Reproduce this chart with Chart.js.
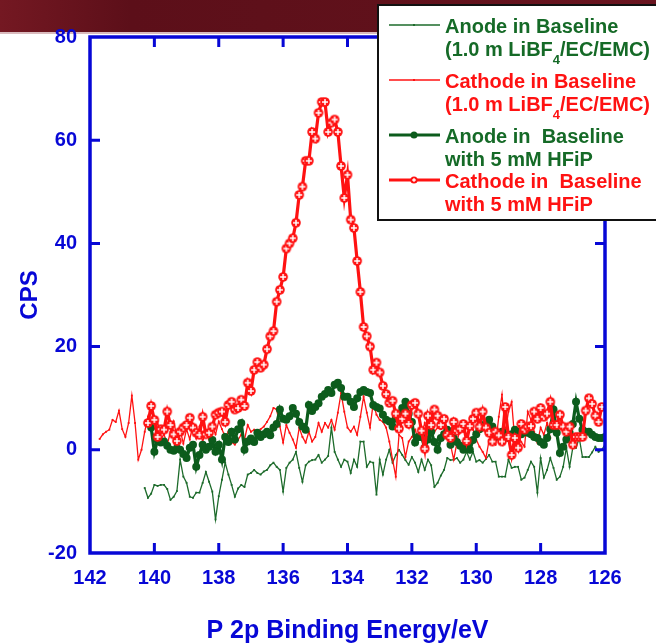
<!DOCTYPE html>
<html>
<head>
<meta charset="utf-8">
<title>P 2p XPS</title>
<script src="https://cdn.jsdelivr.net/npm/chart.js@4.4.0/dist/chart.umd.min.js"></script>
<style>
html, body { margin: 0; padding: 0; background: #fff; }
#wrap { width: 656px; height: 644px; }
</style>
</head>
<body>
<div id="wrap"><canvas id="xps" width="656" height="644"></canvas></div>
<script>
// colours
var BLUE = '#0707d6';
var GREEN_THIN = '#1d6b2b';
var GREEN = '#0c5c1c';
var RED = '#ff1212';
var FONT = '"Liberation Sans", Arial, sans-serif';

// energy grid (eV): first point of each scan, spacing 0.1 eV
var stepEV = 0.1;
var anodeBaseStart = 140.3;
var cathodeBaseStart = 141.7;
var anodeHfipStart = 140.1;
var cathodeHfipStart = 140.2;

// CPS
var anodeBase = [
  -7.4,-9.3,-8.5,-6.8,-7.0,-6.8,-6.8,-7.6,-9.7,-9.1,
  -8.0,-1.9,-5.2,-6.4,-9.1,-9.3,-8.3,-8.3,-6.4,-4.3,
  -6.2,-8.1,-13.5,-9.0,-5.8,-2.5,-4.8,-6.8,-9.1,-7.5,
  -6.8,-7.2,-4.8,-4.5,-3.9,-4.5,-4.8,-4.2,-3.9,-3.0,
  -2.5,-3.3,-3.9,-8.1,-3.5,-2.5,-1.9,-0.4,-3.5,-6.2,
  -3.0,-2.3,-2.0,-1.9,-1.0,-2.5,-1.9,-1.2,4.3,-0.4,
  -1.9,-3.3,-1.9,-2.3,-4.5,-1.9,-3.3,1.6,1.6,-3.3,
  -2.3,-2.5,-8.7,-1.9,-4.8,-1.9,0.0,-2.5,-1.0,0.0,
  -1.0,-2.0,-2.9,-1.4,-2.5,-4.3,-1.9,-3.9,-1.9,-3.0,
  -7.2,-6.4,-5.0,-3.9,-1.6,-2.0,-1.9,-1.6,-2.5,-1.9,
  -0.4,-1.9,-0.4,-2.3,-2.0,-2.5,-1.8,-1.0,-2.3,-2.3,
  -5.2,-5.2,-5.2,-1.9,-3.5,-3.3,-3.3,-5.8,-5.4,-3.9,
  -2.3,-3.3,-8.3,-1.6,-5.4,-3.9,-1.6,-3.5,-5.8,-5.2,
  -3.3,0.4,-3.3,0.4,0.4,2.3,-1.4,-1.4,-1.4,-0.5,
  0.6,-0.4,0.0,1.0
];
var cathodeBase = [
  2.1,3.0,3.5,3.9,5.8,5.4,7.6,4.0,2.5,5.2,
  10.5,5.2,-1.9,0.0,3.5,6.4,4.0,2.5,5.5,2.0,
  3.0,1.0,3.5,5.5,2.5,3.9,1.2,4.0,2.0,5.0,
  2.2,4.5,1.5,3.8,2.0,4.5,3.0,5.5,4.0,2.5,
  3.5,1.5,1.0,1.9,3.0,2.0,4.8,3.5,3.9,3.0,
  4.0,4.5,5.4,6.5,8.1,7.8,4.5,1.4,4.8,3.3,
  2.0,0.4,4.3,2.5,1.4,3.5,1.6,2.5,5.2,3.5,
  5.2,4.3,5.8,3.9,7.2,11.0,7.4,4.3,3.5,4.5,
  2.9,6.4,10.3,7.2,4.3,9.1,6.8,5.8,5.4,4.3,
  1.6,-1.9,-5.2,2.9,2.3,-1.4,1.6,2.5,3.9,1.9,
  3.0,5.2,2.9,4.8,3.5,4.3,4.0,4.5,2.3,1.0,
  -1.9,1.4,4.3,3.5,4.5,5.2,3.9,2.0,0.6,-0.4,
  -1.6,1.9,1.5,1.0,6.4,10.7,3.3,7.4,9.3,1.6,
  2.9,1.5,0.6,7.4,5.8,3.5,1.4,4.3,2.9,5.2,
  2.3
];
var anodeHfip = [
  4.3,-0.4,1.9,1.4,1.6,0.8,0.0,-0.2,0.3,0.0,
  -0.8,-1.6,0.4,1.0,-3.3,-1.0,1.0,0.0,0.6,1.9,
  -0.4,1.0,-1.9,2.5,1.5,3.5,2.0,4.0,5.2,0.0,
  1.6,2.2,1.5,3.3,2.5,3.0,3.5,2.8,4.3,5.0,
  7.8,6.0,5.8,6.5,8.1,7.0,5.4,4.5,3.9,8.7,
  7.5,8.3,9.0,10.3,10.8,11.6,11.0,12.6,13.0,12.0,
  10.3,10.3,9.3,8.3,10.0,11.2,11.6,11.2,11.0,8.7,
  8.3,8.0,6.8,5.8,5.5,4.5,6.2,7.0,8.1,9.3,
  7.0,5.4,1.4,2.5,2.5,0.4,2.0,3.5,1.5,0.0,
  2.3,3.0,3.9,1.0,2.3,1.5,0.8,0.0,1.4,0.0,
  1.9,3.0,4.0,4.5,5.2,5.8,4.5,2.5,3.0,3.5,
  3.0,2.3,3.0,3.9,3.5,3.0,3.5,3.3,3.0,2.5,
  2.3,1.5,1.0,2.3,4.0,7.8,3.3,-0.6,0.6,2.0,
  3.3,5.0,9.3,6.0,3.9,3.5,3.5,2.9,2.5,2.3,
  2.3,2.5
];
var cathodeHfip = [
  5.2,8.5,5.8,2.5,4.0,3.9,7.4,4.8,3.0,1.7,
  3.5,4.3,4.8,6.2,4.3,3.3,2.9,6.4,3.0,3.3,
  4.5,6.8,7.2,7.4,5.4,8.7,9.3,7.8,8.1,9.7,
  8.5,13.0,11.4,15.5,17.0,15.9,16.5,19.5,22.0,23.0,
  28.7,31.0,33.5,39.0,40.0,41.0,44.0,49.4,51.0,56.0,
  56.0,61.6,60.3,65.3,67.4,67.4,61.6,63.4,64.0,61.6,
  55.0,48.8,53.3,44.6,43.0,36.6,30.6,23.8,22.0,20.0,
  15.5,16.9,15.0,12.4,10.8,9.1,9.5,7.0,4.1,6.0,
  7.0,5.0,8.7,9.1,7.0,3.7,0.2,6.6,4.8,7.8,
  6.6,4.8,6.0,2.9,2.3,5.4,3.7,4.1,5.0,1.7,
  4.6,6.0,7.2,4.5,7.4,4.3,3.3,1.6,3.5,2.8,
  1.6,8.3,2.5,-1.0,2.3,0.4,5.0,3.9,4.5,4.6,
  7.4,6.0,8.1,6.4,7.0,9.3,4.8,4.8,6.8,4.5,
  3.5,4.5,1.0,2.5,2.5,2.5,7.6,10.0,8.9,6.6,
  5.4,8.3
];

var xTicks = [142, 140, 138, 136, 134, 132, 130, 128, 126];
var yTicks = [-20, 0, 20, 40, 60, 80];

// legend text, "_4" marks the subscript
var seriesNames = [
  ['Anode in Baseline', '(1.0 m LiBF_4/EC/EMC)'],
  ['Cathode in Baseline', '(1.0 m LiBF_4/EC/EMC)'],
  ['Anode in  Baseline', 'with 5 mM HFiP'],
  ['Cathode in  Baseline', 'with 5 mM HFiP']
];

function toPoints(start, vals) {
  return vals.map(function (v, i) {
    return { x: +(start - i * stepEV).toFixed(2), y: v };
  });
}

// red dot with white cross
function crossDot(r) {
  var c = document.createElement('canvas');
  var s = Math.ceil(r * 2 + 2);
  c.width = s; c.height = s;
  var g = c.getContext('2d');
  var m = s / 2;
  g.fillStyle = RED;
  g.beginPath(); g.arc(m, m, r, 0, Math.PI * 2); g.fill();
  g.strokeStyle = '#fff'; g.lineWidth = 1.5;
  g.beginPath();
  g.moveTo(m, m - r + 1.8); g.lineTo(m, m + r - 1.8);
  g.moveTo(m - r + 1.8, m); g.lineTo(m + r - 1.8, m);
  g.stroke();
  return c;
}
var redMark = crossDot(4.8);
var redMarkSmall = crossDot(3.6);

// dark red banner at the top
var bannerPlugin = {
  id: 'banner',
  beforeDraw: function (chart) {
    var ctx = chart.ctx;
    var g = ctx.createLinearGradient(0, 0, 656, 0);
    g.addColorStop(0, '#741822');
    g.addColorStop(0.2, '#5c0f19');
    g.addColorStop(0.6, '#60111b');
    g.addColorStop(1, '#6a1520');
    ctx.save();
    ctx.fillStyle = g;
    ctx.fillRect(0, 0, 656, 32);
    ctx.fillStyle = 'rgba(150,60,70,0.35)';
    ctx.fillRect(0, 32, 656, 2);
    ctx.restore();
  }
};

// blue box with inward ticks
var framePlugin = {
  id: 'frame',
  afterDatasetsDraw: function (chart) {
    var ctx = chart.ctx, a = chart.chartArea;
    var xs = chart.scales.x, ys = chart.scales.y;
    ctx.save();
    ctx.strokeStyle = BLUE;
    ctx.lineWidth = 3.5;
    ctx.strokeRect(a.left, a.top, a.right - a.left, a.bottom - a.top);
    ctx.lineWidth = 3;
    ctx.beginPath();
    xTicks.slice(1, -1).forEach(function (v) {
      var px = xs.getPixelForValue(v);
      ctx.moveTo(px, a.bottom); ctx.lineTo(px, a.bottom - 10);
      ctx.moveTo(px, a.top); ctx.lineTo(px, a.top + 10);
    });
    yTicks.slice(1, -1).forEach(function (v) {
      var py = ys.getPixelForValue(v);
      ctx.moveTo(a.left, py); ctx.lineTo(a.left + 10, py);
      ctx.moveTo(a.right, py); ctx.lineTo(a.right - 10, py);
    });
    ctx.stroke();
    ctx.restore();
  }
};

function drawRich(ctx, text, x, y) {
  var parts = text.split('_4');
  ctx.font = 'bold 20px ' + FONT;
  ctx.fillText(parts[0], x, y);
  if (parts.length > 1) {
    x += ctx.measureText(parts[0]).width;
    ctx.font = 'bold 13px ' + FONT;
    ctx.fillText('4', x, y + 10);
    x += ctx.measureText('4').width;
    ctx.font = 'bold 20px ' + FONT;
    ctx.fillText(parts[1], x, y);
  }
}

// boxed legend, top right
var legendPlugin = {
  id: 'boxLegend',
  afterDraw: function (chart) {
    var ctx = chart.ctx;
    var rows = [25, 80, 135, 180];
    var colors = [GREEN, RED, GREEN, RED];
    ctx.save();
    ctx.fillStyle = '#fff';
    ctx.fillRect(378, 5, 300, 215);
    ctx.strokeStyle = '#111';
    ctx.lineWidth = 2;
    ctx.strokeRect(378, 5, 300, 215);
    ctx.textBaseline = 'middle';
    for (var i = 0; i < 4; i++) {
      var y = rows[i];
      var ds = chart.data.datasets[i];
      ctx.strokeStyle = ds.borderColor;
      ctx.lineWidth = ds.borderWidth;
      ctx.beginPath(); ctx.moveTo(389, y); ctx.lineTo(440, y); ctx.stroke();
      if (i === 2) {
        ctx.fillStyle = GREEN;
        ctx.beginPath(); ctx.arc(414, y, 3.5, 0, Math.PI * 2); ctx.fill();
      } else if (i === 3) {
        ctx.drawImage(redMarkSmall, 414 - redMarkSmall.width / 2, y - redMarkSmall.height / 2);
      } else {
        ctx.fillStyle = ds.borderColor;
        ctx.fillRect(413, y - 1, 2, 2);
      }
      ctx.fillStyle = colors[i] === GREEN ? '#156a27' : RED;
      drawRich(ctx, seriesNames[i][0], 445, y + 2);
      drawRich(ctx, seriesNames[i][1], 445, y + 25);
    }
    ctx.restore();
  }
};

var tickFont = { family: FONT, weight: 'bold', size: 20 };

var xpsChart = new Chart(document.getElementById('xps').getContext('2d'), {
  type: 'line',
  data: {
    datasets: [
      {
        label: seriesNames[0].join(' '),
        data: toPoints(anodeBaseStart, anodeBase),
        borderColor: GREEN_THIN, borderWidth: 1.3,
        pointStyle: 'rect', pointRadius: 1.3, pointBorderWidth: 0,
        pointBackgroundColor: GREEN_THIN, order: 3
      },
      {
        label: seriesNames[1].join(' '),
        data: toPoints(cathodeBaseStart, cathodeBase),
        borderColor: RED, borderWidth: 1.3,
        pointStyle: 'rect', pointRadius: 1.3, pointBorderWidth: 0,
        pointBackgroundColor: RED, order: 2
      },
      {
        label: seriesNames[2].join(' '),
        data: toPoints(anodeHfipStart, anodeHfip),
        borderColor: GREEN, borderWidth: 3.2,
        pointStyle: 'circle', pointRadius: 4, pointBorderWidth: 0,
        pointBackgroundColor: GREEN, order: 1
      },
      {
        label: seriesNames[3].join(' '),
        data: toPoints(cathodeHfipStart, cathodeHfip),
        borderColor: RED, borderWidth: 3.2,
        pointStyle: redMark, pointRadius: 4.8, order: 0
      }
    ]
  },
  options: {
    responsive: false,
    animation: false,
    layout: { padding: { top: 37, right: 51, left: 0, bottom: 0 } },
    plugins: { legend: { display: false }, tooltip: { enabled: false } },
    scales: {
      x: {
        type: 'linear', reverse: true, min: 126, max: 142,
        afterBuildTicks: function (s) { s.ticks = xTicks.map(function (v) { return { value: v }; }); },
        afterFit: function (s) { s.height = 91; },
        grid: { display: false, drawTicks: false },
        border: { display: false },
        ticks: { color: BLUE, font: tickFont, padding: 13, maxRotation: 0, autoSkip: false },
        title: {
          display: true, text: 'P 2p Binding Energy/eV', color: BLUE,
          font: { family: FONT, weight: 'bold', size: 25, lineHeight: 1 }, padding: { top: 0, bottom: 0 }
        }
      },
      y: {
        min: -20, max: 80,
        afterBuildTicks: function (s) { s.ticks = yTicks.map(function (v) { return { value: v }; }); },
        afterFit: function (s) { s.width = 90; },
        grid: { display: false, drawTicks: false },
        border: { display: false },
        ticks: { color: BLUE, font: tickFont, padding: 13 },
        title: {
          display: true, text: 'CPS', color: BLUE,
          font: { family: FONT, weight: 'bold', size: 24 }, padding: { top: 16, bottom: 16 }
        }
      }
    }
  },
  plugins: [bannerPlugin, framePlugin, legendPlugin]
});
</script>
</body>
</html>
